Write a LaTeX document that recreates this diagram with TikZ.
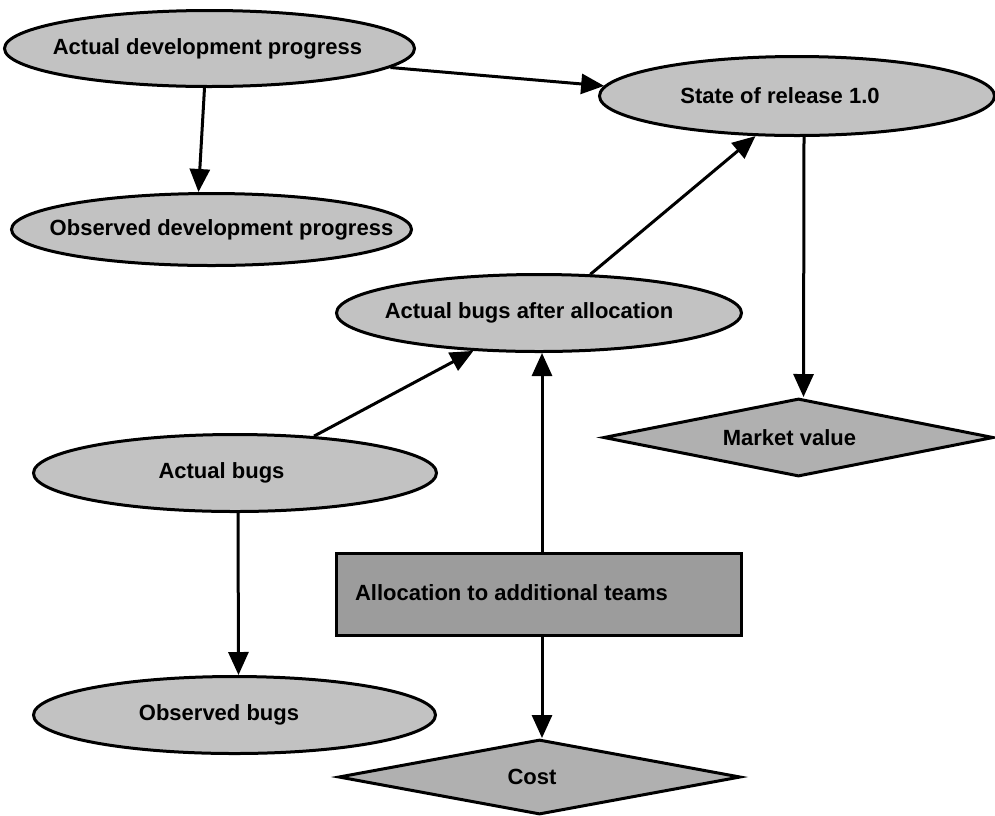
\documentclass[tikz,border=0pt]{standalone}
\usepackage{fontspec}
\setmainfont{Liberation Sans}
\usetikzlibrary{shapes.geometric,arrows.meta}
\definecolor{ellfill}{HTML}{C2C2C2}
\definecolor{diafill}{HTML}{B0B0B0}
\definecolor{boxfill}{HTML}{9C9C9C}
\begin{document}
\begin{tikzpicture}[x=1pt,y=-1pt,
  lbl/.style={font=\bfseries\fontsize{22}{26}\selectfont,inner sep=0pt},
  ell/.style={ellipse,draw=black,line width=3pt,fill=ellfill,inner sep=0pt},
  dia/.style={diamond,draw=black,line width=3pt,fill=diafill,inner sep=0pt},
  boxnode/.style={rectangle,draw=black,line width=3pt,fill=boxfill,inner sep=0pt},
  conn/.style={line width=3pt,-{Triangle[length=23pt,width=20pt]}}
]
\path[use as bounding box,fill=white] (0,0) rectangle (995,815);

\node[ell,minimum width=410pt,minimum height=76pt,label={[lbl,xshift=-2pt]center:Actual development progress}] (adp) at (209.5,48.5) {};
\node[ell,minimum width=400pt,minimum height=72pt,label={[lbl,xshift=10pt]center:Observed development progress}] (odp) at (211.5,229.5) {};
\node[ell,minimum width=395pt,minimum height=79pt,label={[lbl,xshift=-17pt]center:State of release 1.0}] (sor) at (797,96) {};
\node[ell,minimum width=405pt,minimum height=77pt,label={[lbl,xshift=-10pt]center:Actual bugs after allocation}] (aba) at (539,313) {};
\node[dia,minimum width=390pt,minimum height=78pt,label={[lbl,xshift=-9pt]center:Market value}] (mkt) at (798.5,437.5) {};
\node[ell,minimum width=403pt,minimum height=77pt,label={[lbl,xshift=-13.5pt]center:Actual bugs}] (ab) at (235,473) {};
\node[ell,minimum width=402pt,minimum height=77pt,label={[lbl,xshift=-15.5pt]center:Observed bugs}] (ob) at (234.5,715) {};
\node[boxnode,minimum width=405pt,minimum height=82pt,label={[lbl,xshift=-27.5pt,yshift=2pt]center:Allocation to additional teams}] (alloc) at (539,594.5) {};
\node[dia,minimum width=402pt,minimum height=75pt,label={[lbl,xshift=-7.5pt]center:Cost}] (cost) at (539.5,777) {};

\draw[conn] ([xshift=-5pt]adp.south) -- ([xshift=-13pt]odp.north);
\draw[conn] (adp.-6) -- (sor.177);
\draw[conn] (aba.37) -- (sor.-136);
\draw[conn] ([xshift=7pt]sor.south) -- ([xshift=5pt]mkt.north);
\draw[conn] (ab.25) -- (aba.-150);
\draw[conn] ([xshift=3pt]alloc.north) -- ([xshift=3pt]aba.south);
\draw[conn] ([xshift=3pt]ab.south) -- ([xshift=4pt]ob.north);
\draw[conn] ([xshift=3pt]alloc.south) -- ([xshift=2.5pt]cost.north);
\end{tikzpicture}
\end{document}
